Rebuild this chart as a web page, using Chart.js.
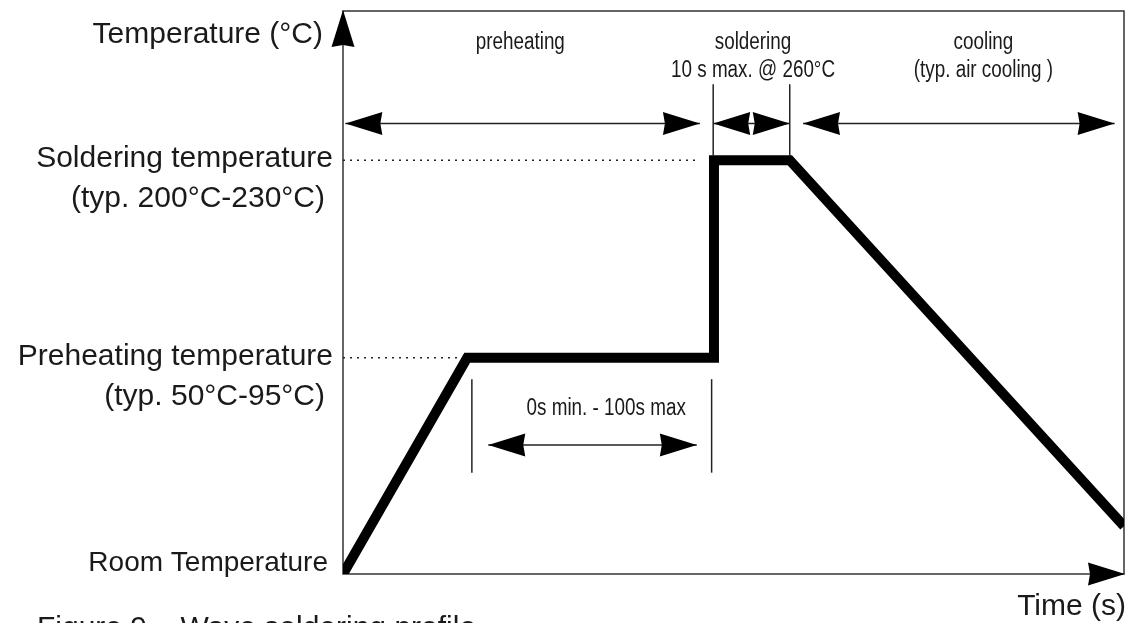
<!DOCTYPE html>
<html>
<head>
<meta charset="utf-8">
<script src="https://cdn.jsdelivr.net/npm/chart.js@4"></script>
<style>body{margin:0;background:#fff}</style>
</head>
<body>
<canvas id="chart" width="1129" height="623"></canvas>
<script>
// Temperature profile (schematic units, 0-100 on both axes).
const profileTime = [0, 15.9, 47.5, 47.5, 57.2, 100];
const profileTemp = [0, 38.4, 38.4, 73.5, 73.5, 8.5];

// Temperature levels named on the y axis.
const levelTemp = [0, 38.4, 73.5];
const levelNames = ['Room Temperature', 'Preheating temperature', 'Soldering temperature'];
const levelNotes = ['', '(typ. 50°C-95°C)', '(typ. 200°C-230°C)'];
const guideEnd = [0, 15.2, 45.3];

// Phases along the top.
const phaseNames = ['preheating', 'soldering', 'cooling'];
const phaseNotes = ['', '10 s max. @ 260°C', '(typ. air cooling )'];
const phaseStart = [0.3, 47.4, 58.9];
const phaseEnd = [45.7, 57.2, 98.8];
const phaseLabelAt = [22.7, 52.5, 82];
const phaseMarks = [47.4, 57.2];
const phaseRow = 80;
const phaseMarkTop = 87;

// Preheating hold time.
const holdLabel = '0s min. - 100s max';
const holdStart = 18.6;
const holdEnd = 45.3;
const holdLabelAt = 33.7;
const holdMarks = [16.5, 47.2];
const holdRow = 22.9;
const holdMarkTop = 34.6;
const holdMarkBottom = 18;

const xTitle = 'Time (s)';
const yTitle = 'Temperature (°C)';
const caption = 'Figure 9 – Wave soldering profile';

const ink = '#1a1a1a';
const wide = '"Liberation Sans", Arial, sans-serif';

// Draw a filled arrow head with its tip at (x, y), pointing at angle a.
function arrowHead(ctx, x, y, a) {
  const len = 37, half = 11.5, notch = 2;
  ctx.save();
  ctx.translate(x, y);
  ctx.rotate(a);
  ctx.beginPath();
  ctx.moveTo(0, 0);
  ctx.lineTo(-len, -half);
  ctx.lineTo(-len + notch, 0);
  ctx.lineTo(-len, half);
  ctx.closePath();
  ctx.fillStyle = '#000';
  ctx.fill();
  ctx.restore();
}

function line(ctx, x1, y1, x2, y2) {
  ctx.beginPath();
  ctx.moveTo(x1, y1);
  ctx.lineTo(x2, y2);
  ctx.stroke();
}

function doubleArrow(ctx, x1, x2, y) {
  line(ctx, x1, y, x2, y);
  arrowHead(ctx, x1, y, Math.PI);
  arrowHead(ctx, x2, y, 0);
}

// Condensed text: Liberation Sans squeezed horizontally.
function narrowText(ctx, text, x, y) {
  ctx.save();
  ctx.translate(x, y);
  ctx.scale(0.82, 1);
  ctx.fillText(text, 0, 0);
  ctx.restore();
}

// Frame and axes, drawn below the profile.
const framePlugin = {
  id: 'frame',
  beforeDatasetsDraw(chart) {
    const {ctx, chartArea: a} = chart;
    ctx.save();
    ctx.strokeStyle = '#333';
    ctx.lineWidth = 1.5;
    ctx.strokeRect(a.left, a.top, a.right - a.left, a.bottom - a.top);
    ctx.restore();
  }
};

// Arrows, marks and text.
const notesPlugin = {
  id: 'notes',
  afterDatasetsDraw(chart) {
    const {ctx, chartArea: a} = chart;
    const xs = chart.scales.x, ys = chart.scales.y;
    ctx.save();

    // axis arrow heads
    arrowHead(ctx, a.left, a.top - 1, -Math.PI / 2);
    arrowHead(ctx, a.right + 1, a.bottom, 0);

    // phase arrows and marks
    ctx.strokeStyle = '#222';
    ctx.lineWidth = 1.5;
    const py = ys.getPixelForValue(phaseRow);
    phaseStart.forEach((s, i) => {
      doubleArrow(ctx, xs.getPixelForValue(s), xs.getPixelForValue(phaseEnd[i]), py);
    });
    phaseMarks.forEach(m => {
      const mx = xs.getPixelForValue(m);
      line(ctx, mx, ys.getPixelForValue(phaseMarkTop), mx, ys.getPixelForValue(levelTemp[2]) - 4);
    });

    // hold arrow and marks
    const hy = ys.getPixelForValue(holdRow);
    doubleArrow(ctx, xs.getPixelForValue(holdStart), xs.getPixelForValue(holdEnd), hy);
    holdMarks.forEach(m => {
      const mx = xs.getPixelForValue(m);
      line(ctx, mx, ys.getPixelForValue(holdMarkTop), mx, ys.getPixelForValue(holdMarkBottom));
    });

    // phase text
    ctx.fillStyle = ink;
    ctx.textAlign = 'center';
    ctx.textBaseline = 'alphabetic';
    ctx.font = '23px ' + wide;
    phaseNames.forEach((n, i) => {
      const lx = xs.getPixelForValue(phaseLabelAt[i]);
      narrowText(ctx, n, lx, py - 75);
      if (phaseNotes[i]) narrowText(ctx, phaseNotes[i], lx, py - 47);
    });
    narrowText(ctx, holdLabel, xs.getPixelForValue(holdLabelAt), hy - 30);

    // level labels
    ctx.textAlign = 'right';
    levelNames.forEach((n, i) => {
      const ly = ys.getPixelForValue(levelTemp[i]);
      if (levelNotes[i]) {
        ctx.font = '30px ' + wide;
        ctx.fillText(n, a.left - 10, ly + 7);
        ctx.fillText(levelNotes[i], a.left - 18, ly + 47);
      } else {
        ctx.font = '28px ' + wide;
        ctx.fillText(n, a.left - 15, ly - 3);
      }
    });

    // axis titles and caption
    ctx.font = '30px ' + wide;
    ctx.fillText(yTitle, a.left - 20, a.top + 32);
    ctx.fillText(xTitle, a.right + 2, a.bottom + 41);
    ctx.textAlign = 'left';
    ctx.fillText(caption, 37, a.bottom + 63);
    ctx.restore();
  }
};

const guideSets = levelTemp.map((t, i) => ({
  data: [{x: 0, y: t}, {x: guideEnd[i], y: t}],
  borderColor: '#222',
  borderWidth: 1.5,
  borderDash: [2, 5],
  pointRadius: 0
})).filter((d, i) => guideEnd[i] > 0);

new Chart('chart', {
  type: 'line',
  data: {
    datasets: [{
      data: profileTime.map((t, i) => ({x: t, y: profileTemp[i]})),
      borderColor: '#000',
      borderWidth: 10,
      borderJoinStyle: 'miter',
      borderCapStyle: 'butt',
      pointRadius: 0,
      tension: 0,
      clip: 0
    }, ...guideSets]
  },
  options: {
    responsive: false,
    animation: false,
    layout: {padding: {left: 343, top: 11, right: 5, bottom: 49}},
    scales: {
      x: {type: 'linear', min: 0, max: 100, display: false},
      y: {type: 'linear', min: 0, max: 100, display: false}
    },
    plugins: {legend: {display: false}, tooltip: {enabled: false}}
  },
  plugins: [framePlugin, notesPlugin]
});
</script>
</body>
</html>
